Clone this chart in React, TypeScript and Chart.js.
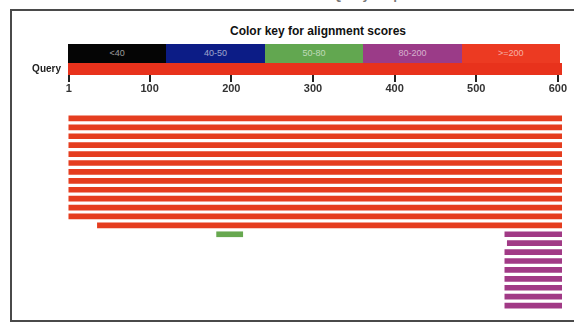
import React, { useEffect, useRef } from 'react';
import { Chart, registerables } from 'chart.js';

Chart.register(...registerables);

// ---- data ----
const QUERY_LENGTH = 605;
const QUERY_LABEL = 'Query';
const RULER_TICKS = [1, 100, 200, 300, 400, 500, 600];

const KEY_TITLE = 'Color key for alignment scores';
const KEY_LABELS = ['<40', '40-50', '50-80', '80-200', '>=200'];
const KEY_COLORS = ['#050505', '#0c1c86', '#62a750', '#9b3b88', '#ec3a22'];

const HEADER = 'Distribution of 22 Blast Hits on the Query Sequence';

const HIT_ROWS = [
  'hit1', 'hit2', 'hit3', 'hit4', 'hit5', 'hit6', 'hit7', 'hit8', 'hit9', 'hit10', 'hit11',
  'hit12', 'hit13', 'hit14', 'hit15', 'hit16', 'hit17', 'hit18', 'hit19', 'hit20', 'hit21', 'hit22',
];

type Span = [number, number] | null;

// score >= 200
const RED_HITS: Span[] = [
  [1, 605], [1, 605], [1, 605], [1, 605], [1, 605], [1, 605],
  [1, 605], [1, 605], [1, 605], [1, 605], [1, 605], [1, 605],
  [36, 605], null, null, null, null, null, null, null, null, null,
];
// score 50-80
const GREEN_HITS: Span[] = [
  null, null, null, null, null, null, null, null, null, null, null, null,
  null, [182, 214], null, null, null, null, null, null, null, null,
];
// score 80-200
const PURPLE_HITS: Span[] = [
  null, null, null, null, null, null, null, null, null, null, null, null,
  null, [535, 605], [538, 605], [535, 605], [535, 605], [535, 605],
  [535, 605], [535, 605], [535, 605], [535, 605],
];

const QUERY_COLOR = '#e8321c';
const RED = '#e53d1f';
const GREEN = '#67a84f';
const PURPLE = '#a13a86';

Chart.defaults.font.family = '"Liberation Sans", Arial, sans-serif';

function RulerChart() {
  const ref = useRef<HTMLCanvasElement>(null);
  useEffect(() => {
    const chart = new Chart(ref.current!, {
      type: 'bar',
      data: {
        labels: [QUERY_LABEL],
        datasets: [
          {
            data: [[0, QUERY_LENGTH]] as any,
            backgroundColor: QUERY_COLOR,
            barPercentage: 1,
            categoryPercentage: 1,
            borderSkipped: false,
          },
        ],
      },
      options: {
        indexAxis: 'y',
        animation: false,
        responsive: false,
        maintainAspectRatio: false,
        layout: { padding: { left: 0, right: 12, top: 0, bottom: 0 } },
        plugins: { legend: { display: false }, tooltip: { enabled: false } },
        scales: {
          x: {
            type: 'linear',
            min: 0,
            max: QUERY_LENGTH,
            position: 'bottom',
            afterBuildTicks: (s: any) => {
              s.ticks = RULER_TICKS.map((v) => ({ value: v }));
            },
            afterFit: (s: any) => {
              s.height = 24;
            },
            grid: { drawOnChartArea: false, drawTicks: true, tickLength: 7, color: '#222', lineWidth: 2 },
            border: { display: false },
            ticks: {
              autoSkip: false,
              maxRotation: 0,
              padding: 0,
              color: '#333',
              font: { size: 11, weight: 'bold' },
            },
          },
          y: {
            afterFit: (s: any) => {
              s.width = 68;
              s.paddingTop = 0;
              s.paddingBottom = 0;
            },
            grid: { display: false, drawTicks: false },
            border: { display: false },
            ticks: { padding: 7, color: '#222', font: { size: 10, weight: 'bold' } },
          },
        },
      },
    });
    return () => chart.destroy();
  }, []);
  return <canvas ref={ref} width={574} height={36} style={{ display: 'block' }} />;
}

function HitsChart() {
  const ref = useRef<HTMLCanvasElement>(null);
  useEffect(() => {
    const common = { grouped: false, barThickness: 5, borderSkipped: false } as any;
    const chart = new Chart(ref.current!, {
      type: 'bar',
      data: {
        labels: HIT_ROWS,
        datasets: [
          { ...common, label: '>=200', data: RED_HITS as any, backgroundColor: RED },
          { ...common, label: '50-80', data: GREEN_HITS as any, backgroundColor: GREEN },
          { ...common, label: '80-200', data: PURPLE_HITS as any, backgroundColor: PURPLE },
        ],
      },
      options: {
        indexAxis: 'y',
        animation: false,
        responsive: false,
        maintainAspectRatio: false,
        layout: { padding: { left: 68, right: 12, top: 0, bottom: 0 } },
        plugins: { legend: { display: false }, tooltip: { enabled: false } },
        scales: {
          x: { type: 'linear', display: false, min: 0, max: QUERY_LENGTH },
          y: { display: false },
        },
      },
    });
    return () => chart.destroy();
  }, []);
  return <canvas ref={ref} width={574} height={196} style={{ display: 'block' }} />;
}

export default function App() {
  return (
    <div
      style={{
        position: 'fixed',
        left: 0,
        top: 0,
        width: 574,
        height: 324,
        background: '#fff',
        overflow: 'hidden',
        fontFamily: '"Liberation Sans", Arial, sans-serif',
      }}
    >
      <div
        style={{
          position: 'absolute',
          left: 0,
          width: 550,
          top: -12,
          textAlign: 'center',
          fontSize: 13,
          lineHeight: '13px',
          fontWeight: 'bold',
          color: '#777',
          whiteSpace: 'nowrap',
        }}
      >
        {HEADER}
      </div>
      <div
        style={{
          position: 'absolute',
          left: 10,
          top: 9,
          width: 580,
          height: 313,
          border: '2px solid #4a4a4a',
          boxSizing: 'border-box',
        }}
      />
      <div
        style={{
          position: 'absolute',
          left: 168,
          width: 300,
          top: 24,
          textAlign: 'center',
          fontSize: 12,
          lineHeight: '14px',
          fontWeight: 'bold',
          color: '#111',
        }}
      >
        {KEY_TITLE}
      </div>
      <div
        style={{
          position: 'absolute',
          left: 68,
          top: 44,
          width: 492,
          height: 19,
          display: 'flex',
        }}
      >
        {KEY_LABELS.map((l, i) => (
          <div
            key={l}
            style={{
              flex: 1,
              background: KEY_COLORS[i],
              color: 'rgba(255,255,255,0.6)',
              fontSize: 9,
              lineHeight: '19px',
              textAlign: 'center',
            }}
          >
            {l}
          </div>
        ))}
      </div>
      <div style={{ position: 'absolute', left: 0, top: 63 }}>
        <RulerChart />
      </div>
      <div style={{ position: 'absolute', left: 0, top: 114 }}>
        <HitsChart />
      </div>
    </div>
  );
}
